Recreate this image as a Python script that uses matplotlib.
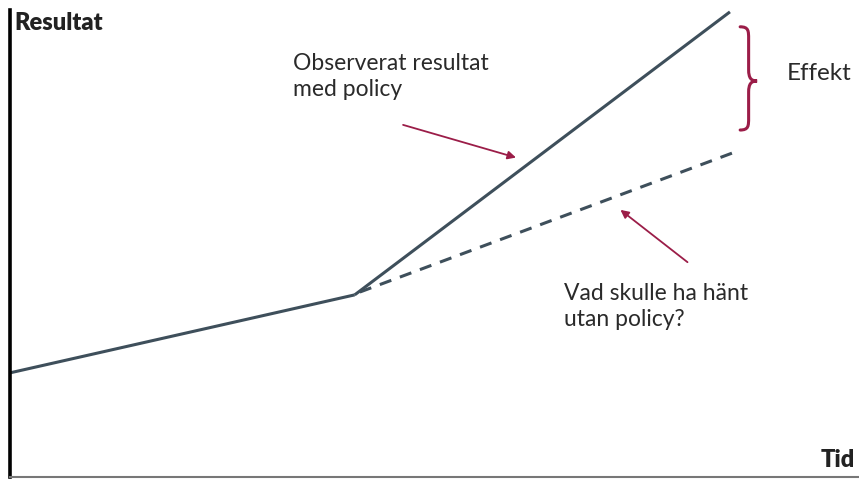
import matplotlib as mpl
mpl.use('Agg')
import matplotlib.pyplot as plt
from matplotlib.path import Path
from matplotlib.patches import PathPatch

# time axis (arbitrary units) and outcome values
tid_fore = [0.0, 40.6]          # before the policy
res_fore = [22.3, 39.0]
tid_med = [40.6, 84.8]          # observed with policy
res_med = [39.0, 99.6]
tid_utan = [41.2, 86.0]         # counterfactual, without policy
res_utan = [39.6, 70.0]

linjefarg = '#3e4f5b'
rod = '#9b1d48'

plt.rcParams['font.family'] = ['Lato', 'DejaVu Sans']

fig = plt.figure(figsize=(8.59, 4.79), dpi=100)
ax = fig.add_axes([10 / 859, 2 / 479, 849 / 859, 467 / 479])
ax.set_xlim(0, 100)
ax.set_ylim(0, 100)

ax.plot(tid_fore, res_fore, color=linjefarg, lw=2.2, solid_capstyle='butt')
ax.plot(tid_med, res_med, color=linjefarg, lw=2.2, solid_capstyle='butt')
ax.plot(tid_utan, res_utan, color=linjefarg, lw=2.2, ls=(0, (4, 3)))

# axes: thick black left, thin grey bottom
for s in ['top', 'right']:
    ax.spines[s].set_visible(False)
ax.spines['left'].set_linewidth(2.6)
ax.spines['left'].set_color('black')
ax.spines['bottom'].set_linewidth(1.5)
ax.spines['bottom'].set_color('#777777')
ax.set_xticks([])
ax.set_yticks([])

ax.text(0.5, 99.5, 'Resultat', fontsize=17, fontweight='heavy', color='#222222',
        ha='left', va='top')
ax.text(99.5, 1.2, 'Tid', fontsize=17, fontweight='heavy', color='#222222',
        ha='right', va='bottom')

ax.text(33.3, 90.8, 'Observerat resultat\nmed policy', fontsize=16.5,
        color='#2a2a2a', ha='left', va='top', linespacing=1.3)
ax.text(65.2, 41.5, 'Vad skulle ha hänt\nutan policy?', fontsize=16.5,
        color='#2a2a2a', ha='left', va='top', linespacing=1.3)
ax.text(91.5, 86.5, 'Effekt', fontsize=17.5, color='#2a2a2a',
        ha='left', va='center')

# arrows
ax.annotate('', xy=(59.6, 68.4), xytext=(46.3, 75.4),
            arrowprops=dict(arrowstyle='-|>', color=rod, lw=1.3,
                            mutation_scale=12, shrinkA=0, shrinkB=0))
ax.annotate('', xy=(71.9, 57.2), xytext=(79.8, 46.0),
            arrowprops=dict(arrowstyle='-|>', color=rod, lw=1.3,
                            mutation_scale=12, shrinkA=0, shrinkB=0))

# curly brace for the effect
verts = [(86.0, 96.4),
         (87.0, 96.4), (87.0, 95.5), (87.0, 93.8),
         (87.0, 87.2),
         (87.0, 85.4), (87.3, 84.8), (88.0, 84.8),
         (87.3, 84.8), (87.0, 84.2), (87.0, 82.4),
         (87.0, 76.9),
         (87.0, 75.2), (87.0, 74.3), (86.0, 74.3)]
codes = [Path.MOVETO,
         Path.CURVE4, Path.CURVE4, Path.CURVE4,
         Path.LINETO,
         Path.CURVE4, Path.CURVE4, Path.CURVE4,
         Path.CURVE4, Path.CURVE4, Path.CURVE4,
         Path.LINETO,
         Path.CURVE4, Path.CURVE4, Path.CURVE4]
ax.add_patch(PathPatch(Path(verts, codes), fill=False, edgecolor=rod, lw=2.2,
                       capstyle='round'))

plt.savefig('out.png', dpi=100)
